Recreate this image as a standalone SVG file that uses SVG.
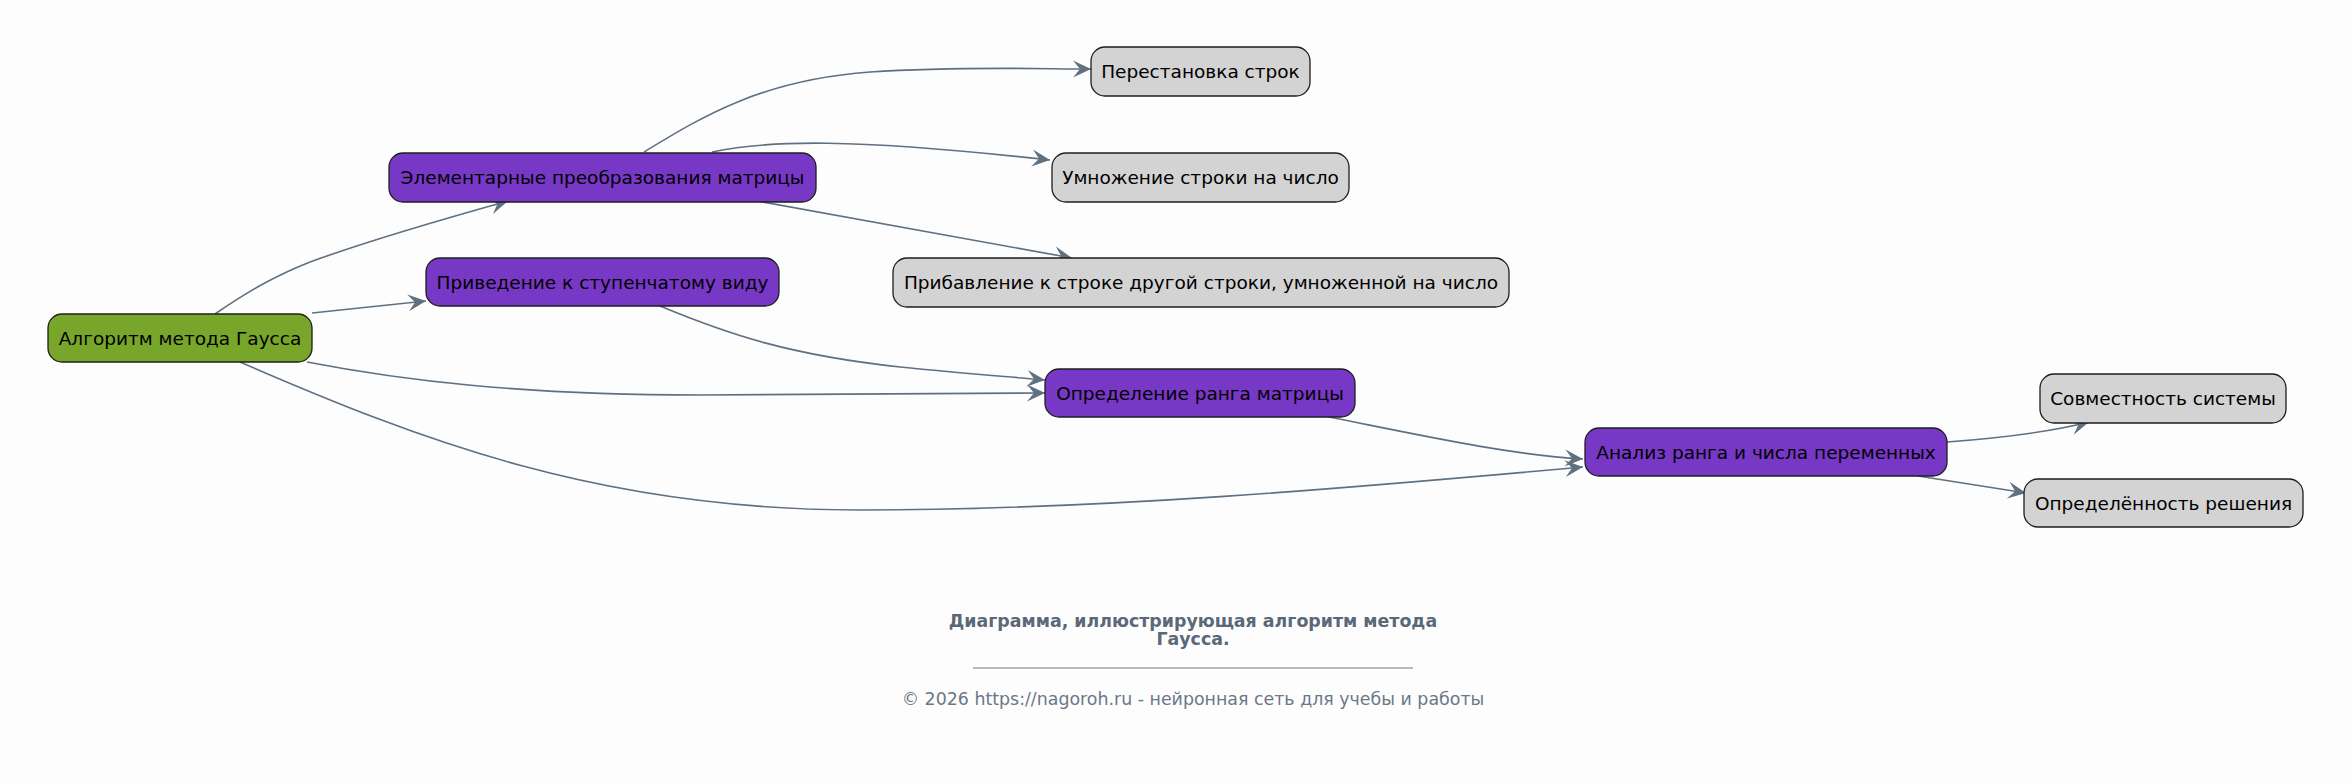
<svg xmlns="http://www.w3.org/2000/svg" width="2351" height="784" viewBox="0 0 2351 784">
<style>
.n rect{stroke:#1e1e1e;stroke-width:1.3}
.n text{font-family:"DejaVu Sans",sans-serif;font-size:18.5px;fill:#000;text-anchor:middle}
.g rect{fill:#78a62b}
.p rect{fill:#7738c6}
.s rect{fill:#d3d3d3}
.e path{fill:none;stroke:#5f7080;stroke-width:1.6;marker-end:url(#ah)}
.t{font-family:"DejaVu Sans",sans-serif;text-anchor:middle;font-size:17.4px}
</style>
<defs>
<marker id="ah" markerUnits="userSpaceOnUse" markerWidth="20" markerHeight="20" viewBox="-19 -10 20 20" refX="0" refY="0" orient="auto">
<path d="M0,0 L-18,-8.5 L-11,0 L-18,8.5 Z" fill="#5f7080"/>
</marker>
</defs>
<rect width="2351" height="784" fill="#fdfdfe"/>
<g class="e" id="connectors">
<path d="M215,314 C250,290 275,276 310,262 C370,240 440,220 508,201"/>
<path d="M312,313 L426,301"/>
<path d="M307,362 C400,380 520,395 700,395 L1045,393"/>
<path d="M240,362 C420,440 600,510 860,510 C1100,510 1350,488 1583,467"/>
<path d="M660,306 C730,335 790,355 900,367 C960,373 1000,376 1045,380"/>
<path d="M1329,417 C1420,435 1510,455 1583,459"/>
<path d="M644,152 C700,118 760,80 870,72 C960,66 1040,69 1091,69"/>
<path d="M712,152 C770,140 850,138 1050,160"/>
<path d="M757,201 L1072,258"/>
<path d="M1947,442 C2000,438 2050,432 2089,422"/>
<path d="M1918,476 L2026,493"/>
</g>
<g id="n1" class="n g"><rect x="48" y="314" width="264" height="48" rx="14"/><text x="180" y="344.5">Алгоритм метода Гаусса</text></g>
<g id="n2" class="n p"><rect x="389" y="153" width="427" height="49" rx="14"/><text x="602.5" y="184">Элементарные преобразования матрицы</text></g>
<g id="n3" class="n p"><rect x="426" y="258" width="353" height="48" rx="14"/><text x="602.5" y="288.5">Приведение к ступенчатому виду</text></g>
<g id="n4" class="n s"><rect x="1091" y="47" width="219" height="49" rx="14"/><text x="1200.5" y="78">Перестановка строк</text></g>
<g id="n5" class="n s"><rect x="1052" y="153" width="297" height="49" rx="14"/><text x="1200.5" y="184">Умножение строки на число</text></g>
<g id="n6" class="n s"><rect x="893" y="258" width="616" height="49" rx="14"/><text x="1201" y="289">Прибавление к строке другой строки, умноженной на число</text></g>
<g id="n7" class="n p"><rect x="1045" y="369" width="310" height="48" rx="14"/><text x="1200" y="399.5">Определение ранга матрицы</text></g>
<g id="n8" class="n p"><rect x="1585" y="428" width="362" height="48" rx="14"/><text x="1766" y="458.5">Анализ ранга и числа переменных</text></g>
<g id="n9" class="n s"><rect x="2040" y="374" width="246" height="49" rx="14"/><text x="2163" y="405">Совместность системы</text></g>
<g id="n10" class="n s"><rect x="2024" y="479" width="279" height="48" rx="14"/><text x="2163.5" y="509.5">Определённость решения</text></g>
<g id="caption">
<text class="t" x="1193" y="627" font-weight="bold" fill="#5a6878">Диаграмма, иллюстрирующая алгоритм метода</text>
<text class="t" x="1193" y="645" font-weight="bold" fill="#5a6878">Гаусса.</text>
<line x1="973" y1="668" x2="1413" y2="668" stroke="#6a7888" stroke-width="1"/>
<text class="t" x="1193" y="705" fill="#6b7886">© 2026 https://nagoroh.ru - нейронная сеть для учебы и работы</text>
</g>
</svg>
